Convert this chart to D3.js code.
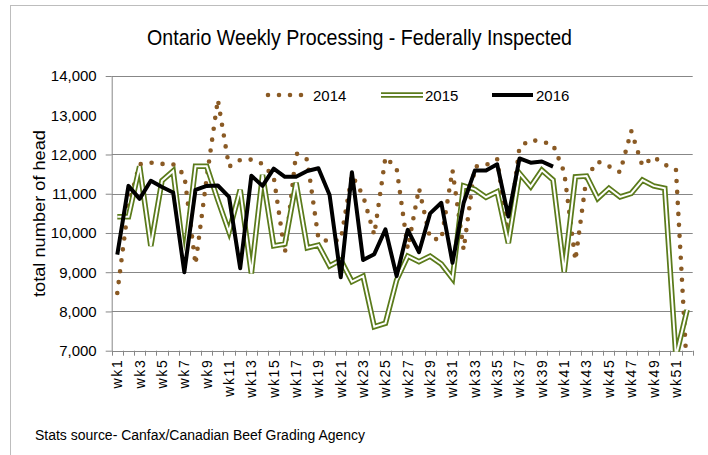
<!DOCTYPE html>
<html>
<head>
<meta charset="utf-8">
<script src="https://cdn.jsdelivr.net/npm/d3@7"></script>
<style>
body { margin: 0; background: #fff; }
text { font-family: "Liberation Sans", Arial, sans-serif; fill: #000; }
</style>
</head>
<body>
<div id="chart"></div>
<script>
// categories + tick labels
const weeks = ["wk1","wk2","wk3","wk4","wk5","wk6","wk7","wk8","wk9","wk10",
  "wk11","wk12","wk13","wk14","wk15","wk16","wk17","wk18","wk19","wk20",
  "wk21","wk22","wk23","wk24","wk25","wk26","wk27","wk28","wk29","wk30",
  "wk31","wk32","wk33","wk34","wk35","wk36","wk37","wk38","wk39","wk40",
  "wk41","wk42","wk43","wk44","wk45","wk46","wk47","wk48","wk49","wk50",
  "wk51","wk52"];
const labelWeeks = ["wk1","wk3","wk5","wk7","wk9","wk11","wk13","wk15","wk17","wk19",
  "wk21","wk23","wk25","wk27","wk29","wk31","wk33","wk35","wk37","wk39",
  "wk41","wk43","wk45","wk47","wk49","wk51"];
const yTicks = [7000, 8000, 9000, 10000, 11000, 12000, 13000, 14000];
const seriesNames = ["2014", "2015", "2016"];

// weekly head counts
const head2014 = [8470,10700,11750,11790,11760,11750,11480,9200,11400,13400,
  11690,11860,11870,11760,11430,9480,12030,11870,9860,9780,
  9820,11480,10950,9950,11930,11650,9600,11140,9860,9830,
  11600,9570,11690,11730,11880,9900,12200,12370,12330,12250,
  11550,9300,11430,11820,11700,11550,12600,11710,11940,11740,
  11620,6400];
const head2015 = [10415,10415,11700,9670,11330,11580,9310,11700,11700,10840,
  10030,11100,8970,11480,9670,9720,11280,9620,9690,9160,
  9310,8760,8900,7610,7700,8800,9410,9270,9410,9210,
  8840,11200,11110,10910,11050,9740,11520,11180,11600,11350,
  9010,11430,11450,10880,11140,10920,11010,11350,11200,11140,
  6850,8040];
const head2016 = [9450,11200,10870,11330,11170,11030,9000,11100,11200,11210,
  10920,9100,11460,11200,11640,11430,11430,11580,11650,10970,
  8870,11550,9310,9460,10090,8900,10080,9510,10500,10770,
  9240,10770,11590,11590,11750,10420,11900,11790,11820,11690];

var width = 708, height = 455;
var plotLeft = 111.7, plotRight = 692.7, plotTop = 76, plotBottom = 350.7;
var brown = "#8a5a24", green = "#5b7b1b", grid = "#878787";

var svg = d3.select("#chart").append("svg")
    .attr("width", width)
    .attr("height", height);

// outer chart frame (runs off the picture at right/bottom)
svg.append("rect")
  .attr("x", 10.5).attr("y", 5.5)
  .attr("width", 720).attr("height", 470)
  .attr("fill", "none").attr("stroke", "#bdbdbd");

var x = d3.scaleBand().domain(weeks).range([plotLeft, plotRight]).padding(0);
var cx = w => x(w) + x.bandwidth() / 2;
var y = d3.scaleLinear().domain([7000, 14000]).range([plotBottom, plotTop]);

// gridlines (the 13,000 line is not drawn in the original)
svg.append("g").selectAll("line")
  .data(yTicks.filter(v => v != 13000 && v != 7000))
  .enter().append("line")
    .attr("x1", plotLeft).attr("x2", plotRight)
    .attr("y1", d => Math.round(y(d)) + 0.5).attr("y2", d => Math.round(y(d)) + 0.5)
    .attr("stroke", grid);

// y axis
var yAxis = svg.append("g")
  .attr("transform", "translate(" + plotLeft + ",0)")
  .call(d3.axisLeft(y).tickValues(yTicks).tickFormat(d3.format(",")).tickSize(6).tickSizeOuter(0).tickPadding(9));
yAxis.select(".domain").attr("stroke", grid);
yAxis.selectAll(".tick line").attr("stroke", grid).filter(d => d == 13000).remove();
yAxis.selectAll(".tick text").style("font-size", "15px").style("font-family", "'Liberation Sans', Arial, sans-serif").attr("fill", "#000");

// x axis line + tick marks between categories
svg.append("line")
  .attr("x1", plotLeft).attr("x2", plotRight)
  .attr("y1", Math.round(plotBottom) + 0.5).attr("y2", Math.round(plotBottom) + 0.5)
  .attr("stroke", grid);
svg.append("g").selectAll("line")
  .data(weeks.map(w => x(w)).concat([plotRight]))
  .enter().append("line")
    .attr("x1", d => Math.round(d) + 0.5).attr("x2", d => Math.round(d) + 0.5)
    .attr("y1", plotBottom).attr("y2", plotBottom + 5)
    .attr("stroke", grid);

var xAxis = svg.append("g")
  .attr("transform", "translate(0," + plotBottom + ")")
  .call(d3.axisBottom(x).tickValues(labelWeeks).tickSize(0));
xAxis.select(".domain").remove();
xAxis.selectAll(".tick text")
  .attr("transform", "rotate(-90)")
  .attr("x", -8).attr("y", 0).attr("dy", "0.35em")
  .style("text-anchor", "end")
  .style("font-size", "14px")
  .style("font-family", "'Liberation Sans', Arial, sans-serif")
  .style("letter-spacing", "1.6px")
  .attr("fill", "#000");

// plot area clip
svg.append("clipPath").attr("id", "plotclip")
  .append("rect").attr("x", plotLeft).attr("y", plotTop - 10)
  .attr("width", plotRight - plotLeft).attr("height", plotBottom - plotTop + 11);

var line = d3.line()
  .defined(d => d != null)
  .x((d, i) => cx(weeks[i]))
  .y(d => y(d));

var plot = svg.append("g").attr("clip-path", "url(#plotclip)");

// 2014 - round dotted brown
plot.append("path").datum(head2014)
  .attr("d", line).attr("fill", "none")
  .attr("stroke", brown).attr("stroke-width", 4.6)
  .attr("stroke-linecap", "round").attr("stroke-dasharray", "0 11");

// 2015 - green double line
plot.append("path").datum(head2015)
  .attr("d", line).attr("fill", "none")
  .attr("stroke", green).attr("stroke-width", 5.5).attr("stroke-linejoin", "miter");
plot.append("path").datum(head2015)
  .attr("d", line).attr("fill", "none")
  .attr("stroke", "#fff").attr("stroke-width", 2).attr("stroke-linejoin", "miter");

// 2016 - thick black
plot.append("path").datum(head2016)
  .attr("d", line).attr("fill", "none")
  .attr("stroke", "#000").attr("stroke-width", 4).attr("stroke-linejoin", "round");

// legend
var lg = svg.append("g");
lg.append("line").attr("x1", 268).attr("x2", 302).attr("y1", 95).attr("y2", 95)
  .attr("stroke", brown).attr("stroke-width", 4.6)
  .attr("stroke-linecap", "round").attr("stroke-dasharray", "0 11");
lg.append("line").attr("x1", 381).attr("x2", 423).attr("y1", 95).attr("y2", 95)
  .attr("stroke", green).attr("stroke-width", 5.5);
lg.append("line").attr("x1", 381).attr("x2", 423).attr("y1", 95).attr("y2", 95)
  .attr("stroke", "#fff").attr("stroke-width", 2);
lg.append("line").attr("x1", 492).attr("x2", 533).attr("y1", 95).attr("y2", 95)
  .attr("stroke", "#000").attr("stroke-width", 4);
lg.selectAll("text").data(seriesNames).enter().append("text")
  .attr("x", (d, i) => [313, 425, 536][i]).attr("y", 100.5)
  .style("font-size", "15px")
  .text(d => d);

// titles
svg.append("text")
  .attr("x", 147).attr("y", 45)
  .attr("textLength", 425).attr("lengthAdjust", "spacingAndGlyphs")
  .style("font-size", "22px")
  .text("Ontario Weekly Processing - Federally Inspected");

svg.append("text")
  .attr("transform", "translate(45,297) rotate(-90)")
  .attr("textLength", 167).attr("lengthAdjust", "spacingAndGlyphs")
  .style("font-size", "16.5px")
  .text("total number of head");

svg.append("text")
  .attr("x", 35).attr("y", 440)
  .attr("textLength", 330).attr("lengthAdjust", "spacingAndGlyphs")
  .style("font-size", "14px")
  .text("Stats source- Canfax/Canadian Beef Grading Agency");
</script>
</body>
</html>
